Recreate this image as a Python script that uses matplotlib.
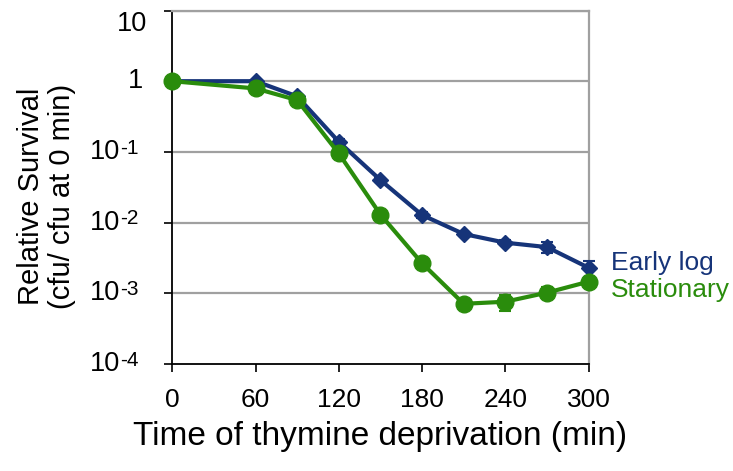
import matplotlib
matplotlib.use("Agg")
import matplotlib.pyplot as plt
import matplotlib.transforms as mtransforms
import numpy as np

plt.rcParams['font.family'] = ['Liberation Sans', 'DejaVu Sans']

time = [0, 60, 90, 120, 150, 180, 210, 240, 270, 300]
early_log = [1.0, 1.0, 0.61, 0.139, 0.040, 0.0128, 0.0069, 0.0052, 0.0045, 0.0023]
early_err = [0.0, 0.03, 0.03, 0.012, 0.003, 0.0012, 0.0004, 0.0004, 0.0008, 0.0006]
stationary = [1.0, 0.79, 0.54, 0.095, 0.013, 0.00266, 0.00071, 0.00076, 0.00102, 0.00146]
stat_err = [0.0, 0.02, 0.02, 0.005, 0.001, 0.0002, 0.00004, 0.0002, 0.0002, 0.0001]
xticks = [0, 60, 120, 180, 240, 300]
yticks = [1e-4, 1e-3, 1e-2, 1e-1, 1, 10]
ytick_base = ['10', '10', '10', '10', '1', '10']
ytick_exp = ['-4', '-3', '-2', '-1', '', '']

blue = '#163479'
green = '#2A8C0C'

fig = plt.figure(figsize=(7.33, 4.71), dpi=100)
ax = fig.add_axes([0.2351, 0.2272, 0.8029 - 0.2351, 0.9777 - 0.2272])

ax.set_yscale('log')
ax.set_xlim(0, 300)
ax.set_ylim(1e-4, 10)

for y in yticks[1:]:
    ax.axhline(y, color='#A0A0A0', lw=1.6, zorder=1)

ax.errorbar(time, early_log, yerr=early_err, color=blue, lw=3, marker='D',
            markersize=8.5, capsize=4, elinewidth=1.5, capthick=1.5, zorder=3,
            clip_on=False)
ax.errorbar(time, stationary, yerr=stat_err, color=green, lw=3, marker='o',
            markersize=12, capsize=4, elinewidth=1.5, capthick=1.5, zorder=4,
            clip_on=False)

ax.set_xticks(xticks)
ax.set_xticklabels([str(t) for t in xticks])
ax.set_yticks(yticks)
ax.set_yticklabels([''] * len(yticks))
ax.yaxis.set_minor_locator(matplotlib.ticker.NullLocator())
ax.tick_params(axis='both', length=5.5, width=1.2, color='black')
ax.tick_params(axis='x', labelsize=19, pad=12)

# y tick labels with Excel-style superscripts
ytr = ax.get_yaxis_transform()
ymax = max(yticks)
for val, base, exp in zip(yticks, ytick_base, ytick_exp):
    if exp:
        ax.text(-0.125, val, base, transform=ytr, fontsize=19.5, ha='right',
                va='center', clip_on=False)
        sup_tr = ytr + mtransforms.ScaledTranslation(0, 9.5 / 72, fig.dpi_scale_trans)
        ax.text(-0.125, val, exp, transform=sup_tr, fontsize=15, ha='left',
                va='top', clip_on=False)
    elif val == ymax:
        ax.text(-0.06, val, base, transform=ytr, fontsize=19.5, ha='right',
                va='top', clip_on=False)
    else:
        ax.text(-0.07, val, base, transform=ytr, fontsize=19.5, ha='right',
                va='center', clip_on=False)

for s in ['left', 'bottom']:
    ax.spines[s].set_color('black')
    ax.spines[s].set_linewidth(1.3)
for s in ['top', 'right']:
    ax.spines[s].set_color('#A0A0A0')
    ax.spines[s].set_linewidth(1.6)

ax.set_xlabel('Time of thymine deprivation (min)', fontsize=24, labelpad=6)
ax.set_ylabel('Relative Survival\n(cfu/ cfu at 0 min)', fontsize=21,
              linespacing=1.15)
ax.yaxis.label.set_va('center')
ax.yaxis.set_label_coords(-0.303, 0.475)

ax.text(1.054, 0.285, 'Early log', transform=ax.transAxes,
        color=blue, fontsize=19, va='center', ha='left')
ax.text(1.054, 0.209, 'Stationary', transform=ax.transAxes,
        color=green, fontsize=19, va='center', ha='left')

fig.savefig('out.png', dpi=100)
